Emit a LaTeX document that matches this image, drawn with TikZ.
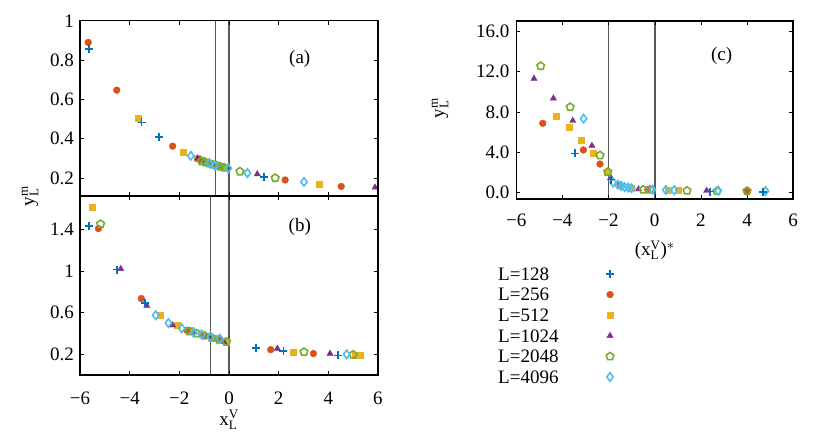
\documentclass[tikz,border=0pt]{standalone}
\usepackage{fontspec}
\setmainfont{Liberation Serif}
\usetikzlibrary{plotmarks}
\definecolor{cB}{RGB}{0,114,189}
\definecolor{cO}{RGB}{217,83,25}
\definecolor{cY}{RGB}{237,177,32}
\definecolor{cP}{RGB}{126,47,142}
\definecolor{cG}{RGB}{119,172,48}
\definecolor{cC}{RGB}{77,190,238}
\tikzset{
 sB/.style={cB,line width=1.6pt},
 sO/.style={cO},
 sY/.style={cY},
 sP/.style={cP},
 sG/.style={cG,line width=1.6pt},
 sC/.style={cC,line width=1.6pt},
 mB/.style={only marks,mark=+,mark size=4pt},
 mO/.style={only marks,mark=*,mark size=3.4pt},
 mY/.style={only marks,mark=square*,mark size=3pt},
 mP/.style={only marks,mark=triangle*,mark size=3.6pt},
 mG/.style={only marks,mark=pentagon,mark size=4pt},
 mC/.style={only marks,mark=diamond,mark size=4.2pt},
 frame/.style={line width=1.4pt},
 vline/.style={line width=1.6pt,black!65},
 lab/.style={font=\fontsize{19}{22}\selectfont,inner sep=1pt},
}
\newcommand{\sbx}[1]{\hbox{\fontsize{13}{14}\selectfont #1}}
\newcommand{\yml}{y$^{\sbx{m}}_{\sbx{L}}$}
\newcommand{\ser}[3]{\draw[#1] plot[#2] coordinates {#3};}
\begin{document}
\begin{tikzpicture}[x=1pt,y=1pt]
\useasboundingbox (0,0) rectangle (830,439);
% ---------- panel (a)
\begin{scope}[shift={(229,221.7)},x=24.83pt,y=196.5pt]
\draw[vline] (-0.55,0.108) -- (-0.55,1);
\draw[vline] (0,0.108) -- (0,1);
\foreach \x in {-4,-2,0,2,4} {\draw[thin] (\x,0.108) -- ++(0,4pt); \draw[thin] (\x,1) -- ++(0,-4pt);}
\foreach \y in {0.2,0.4,0.6,0.8} {\draw[thin] (-6,\y) -- ++(4pt,0); \draw[thin] (6,\y) -- ++(-4pt,0);
  \node[lab,anchor=east] at (-6.2,\y) {\y};}
\node[lab,anchor=east] at (-6.2,1) {1};
\node[lab] (la) at (2.85,0.805) {(a)};
\ser{sY}{mY}{(-3.65,0.503)(-1.86,0.33)(-1.3,0.3)(-1.1,0.29)(-0.8,0.275)(-0.5,0.265)(-0.2,0.255)(3.64,0.169)}
\ser{sO}{mO}{(-5.67,0.89)(-4.52,0.647)(-2.27,0.362)(-1.2,0.295)(-0.9,0.28)(-0.6,0.268)(2.26,0.19)(4.52,0.157)}
\ser{sP}{mP}{(-1.27,0.3)(-1.0,0.287)(-0.7,0.273)(-0.4,0.262)(1.14,0.22)(5.88,0.152)}
\ser{sG}{mG}{(-1.1,0.285)(-0.95,0.28)(-0.8,0.274)(-0.65,0.268)(-0.5,0.263)(-0.35,0.258)(-0.2,0.253)(0.44,0.233)(1.86,0.2)}
\ser{sC}{mC}{(-1.54,0.313)(-0.79,0.276)(-0.56,0.262)(-0.03,0.249)(0.74,0.225)(3.02,0.18)}
\ser{sB}{mB}{(-5.63,0.856)(-3.52,0.483)(-2.81,0.41)(1.41,0.206)}
\draw[frame] (-6,0.108) rectangle (6,1);
\end{scope}
% ---------- panel (b)
\begin{scope}[shift={(229,63.86)},x=24.83pt,y=104.2pt]
\draw[vline] (-0.74,0) -- (-0.74,1.72);
\draw[vline] (0,0) -- (0,1.72);
\foreach \x in {-4,-2,0,2,4} {\draw[thin] (\x,0) -- ++(0,4pt); \draw[thin] (\x,1.72) -- ++(0,-4pt);}
\foreach \x/\t in {-6/−6,-4/−4,-2/−2,0/0,2/2,4/4,6/6} \node[lab] at (\x,-0.22) {\t};
\foreach \y/\t in {0.2/0.2,0.6/0.6,1/1,1.4/1.4} {\draw[thin] (-6,\y) -- ++(4pt,0); \draw[thin] (6,\y) -- ++(-4pt,0);
  \node[lab,anchor=east] at (-6.2,\y) {\t};}
\node[lab] (lb) at (2.85,1.42) {(b)};
\node[lab] (xl) at (0,-0.43) {x$^{\sbx{V}}_{\sbx{L}}$};
\ser{sY}{mY}{(-5.5,1.61)(-2.78,0.575)(-2.1,0.48)(-1.6,0.43)(-1.1,0.39)(-0.6,0.35)(-0.1,0.315)(2.59,0.222)(5.1,0.19)(5.28,0.19)}
\ser{sO}{mO}{(-5.26,1.407)(-3.53,0.735)(-1.7,0.43)(-1.0,0.38)(-0.4,0.34)(1.68,0.245)(3.4,0.207)}
\ser{sP}{mP}{(-4.36,1.02)(-3.31,0.667)(-2.27,0.479)(-1.4,0.41)(-0.8,0.37)(-0.2,0.32)(1.95,0.255)(4.07,0.207)}
\ser{sG}{mG}{(-5.17,1.45)(-1.6,0.42)(-1.3,0.4)(-1.0,0.38)(-0.7,0.36)(-0.4,0.34)(-0.1,0.32)(3.02,0.222)(5.0,0.197)}
\ser{sC}{mC}{(-2.95,0.575)(-2.44,0.5)(-1.9,0.45)(-1.43,0.41)(-1.1,0.39)(-0.75,0.37)(-0.37,0.35)(4.74,0.2)}
\ser{sB}{mB}{(-5.63,1.43)(-4.52,1.013)(-3.38,0.69)(1.09,0.262)(2.19,0.23)(4.4,0.19)}
\draw[frame] (-6,0) rectangle (6,1.72);
\end{scope}
\node[lab,rotate=90] (yl) at (30,243) {\yml};
% ---------- panel (c)
\begin{scope}[shift={(654.7,246.3)},x=23.08pt,y=10.1pt]
\draw[vline] (-2,-0.62) -- (-2,17);
\draw[vline] (0,-0.62) -- (0,17);
\foreach \x in {-4,-2,0,2,4} {\draw[thin] (\x,-0.62) -- ++(0,4pt); \draw[thin] (\x,17) -- ++(0,-4pt);}
\foreach \x/\t in {-6/−6,-4/−4,-2/−2,0/0,2/2,4/4,6/6} \node[lab] at (\x,-2.7) {\t};
\foreach \y in {0,4,8,12,16} {\draw[thin] (-6,\y) -- ++(4pt,0); \draw[thin] (6,\y) -- ++(-4pt,0);
  \node[lab,anchor=east] at (-6.25,\y) {\y.0};}
\node[lab] (lc) at (2.9,13.5) {(c)};
\node[lab] (xlc) at (0,-5.7) {(x$^{\sbx{V}}_{\sbx{L}}$)$^{*}$};
\ser{sO}{mO}{(-4.85,6.87)(-3.09,4.23)(-2.37,2.84)(-1.5,0.8)(-0.3,0.3)(4.0,0.1)}
\ser{sY}{mY}{(-4.28,7.53)(-3.71,6.44)(-3.18,5.22)(-2.66,3.9)(-2.05,2.0)(-1.0,0.4)(0.6,0.25)(1.0,0.2)}
\ser{sP}{mP}{(-5.23,11.3)(-4.39,9.35)(-3.55,7.13)(-2.72,4.65)(-1.89,1.45)(-0.7,0.35)(2.25,0.2)}
\ser{sG}{mG}{(-4.94,12.54)(-3.66,8.48)(-2.37,3.7)(-2.03,2.06)(-0.5,0.3)(-0.2,0.3)(1.4,0.2)(2.7,0.15)(4.0,0.17)}
\ser{sC}{mC}{(-3.08,7.33)(-1.8,1.0)(-1.6,0.8)(-1.45,0.65)(-1.3,0.55)(-1.15,0.5)(-1.0,0.45)(-0.1,0.3)(0.48,0.27)(0.85,0.25)(2.75,0.2)(4.8,0.15)}
\ser{sB}{mB}{(-3.45,3.9)(-1.9,1.3)(2.4,0.1)(4.7,0.07)}
\draw[frame] (-6,-0.62) rectangle (6,17);
\end{scope}
\node[lab,rotate=90] (ylc) at (440,331) {\yml};
% ---------- legend
\foreach \t/\s/\m [count=\i] in {128/sB/mB,256/sO/mO,512/sY/mY,1024/sP/mP,2048/sG/mG,4096/sC/mC} {
  \node[lab,anchor=west] (leg\i) at (497,439-274-20.6*\i+20.6) {L=\t};
  \draw[\s] plot[\m] coordinates {(610,439-274-20.6*\i+20.6)};
}
\end{tikzpicture}
\end{document}
